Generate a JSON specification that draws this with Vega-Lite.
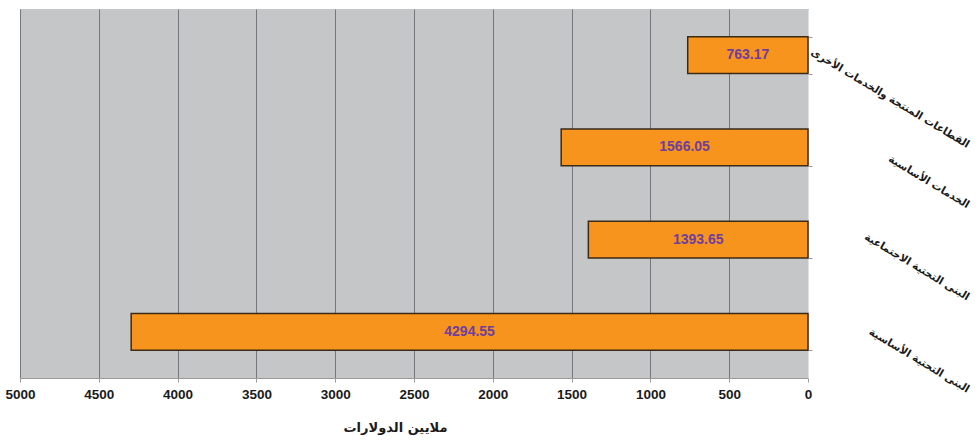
{
  "$schema": "https://vega.github.io/schema/vega-lite/v6.json",
  "width": 788,
  "height": 369,
  "autosize": {"type": "none"},
  "padding": {"left": 20, "top": 9, "right": 171, "bottom": 62},
  "background": "white",
  "config": {
    "view": {"fill": "#c5c6c8", "stroke": null},
    "font": "Liberation Sans"
  },
  "data": {
    "values": [
      {"sector": "القطاعات المنتجة والخدمات الأخرى", "value": 763.17},
      {"sector": "الخدمات الأساسية", "value": 1566.05},
      {"sector": "البنى التحتية الاجتماعية", "value": 1393.65},
      {"sector": "البنى التحتية الأساسية", "value": 4294.55}
    ]
  },
  "encoding": {
    "y": {
      "field": "sector",
      "type": "nominal",
      "sort": null,
      "scale": {"paddingInner": 0.6, "paddingOuter": 0.3},
      "axis": {
        "orient": "right",
        "title": null,
        "tickBand": "extent",
        "tickSize": 4,
        "tickColor": "#9a9a9a",
        "domainColor": "#e0e0e0",
        "labelAngle": 31,
        "labelAlign": "right",
        "labelBaseline": "middle",
        "labelPadding": 156,
        "labelOffset": {"condition": {"test": "datum.value == 'القطاعات المنتجة والخدمات الأخرى'", "value": 90}, "value": 58},
        "labelFontSize": 10.5,
        "labelFontWeight": "bold",
        "labelColor": "#1a1a1a",
        "labelFont": "DejaVu Sans",
        "labelLimit": 300
      }
    }
  },
  "layer": [
    {
      "mark": {"type": "bar", "fill": "#f7941d", "stroke": "#3b2a18", "strokeWidth": 1.5},
      "encoding": {
        "x": {
          "field": "value",
          "type": "quantitative",
          "scale": {"domain": [0, 5000], "reverse": true, "nice": false},
          "axis": {
            "values": [0, 500, 1000, 1500, 2000, 2500, 3000, 3500, 4000, 4500, 5000],
            "format": "d",
            "title": "ملايين الدولارات",
            "titleFontSize": 13,
            "titleFontWeight": "bold",
            "titleColor": "#1a1a1a",
            "titleFont": "DejaVu Sans",
            "titlePadding": 21,
            "titleX": 375,
            "titleAnchor": "middle",
            "labelFontSize": 13.5,
            "labelFontWeight": "bold",
            "labelColor": "#1a1a1a",
            "labelPadding": 5,
            "labelFlush": false,
            "grid": true,
            "gridColor": "#76777a",
            "gridWidth": 1,
            "domainColor": "#9a9a9a",
            "tickColor": "#9a9a9a",
            "tickSize": 4
          }
        }
      }
    },
    {
      "transform": [{"calculate": "datum.value / 2", "as": "mid"}],
      "mark": {"type": "text", "color": "#6e3f9e", "fontSize": 14, "fontWeight": "bold", "font": "Liberation Sans", "align": "center", "baseline": "middle"},
      "encoding": {
        "x": {"field": "mid", "type": "quantitative"},
        "text": {"field": "value", "type": "quantitative", "format": ".2f"}
      }
    }
  ]
}
